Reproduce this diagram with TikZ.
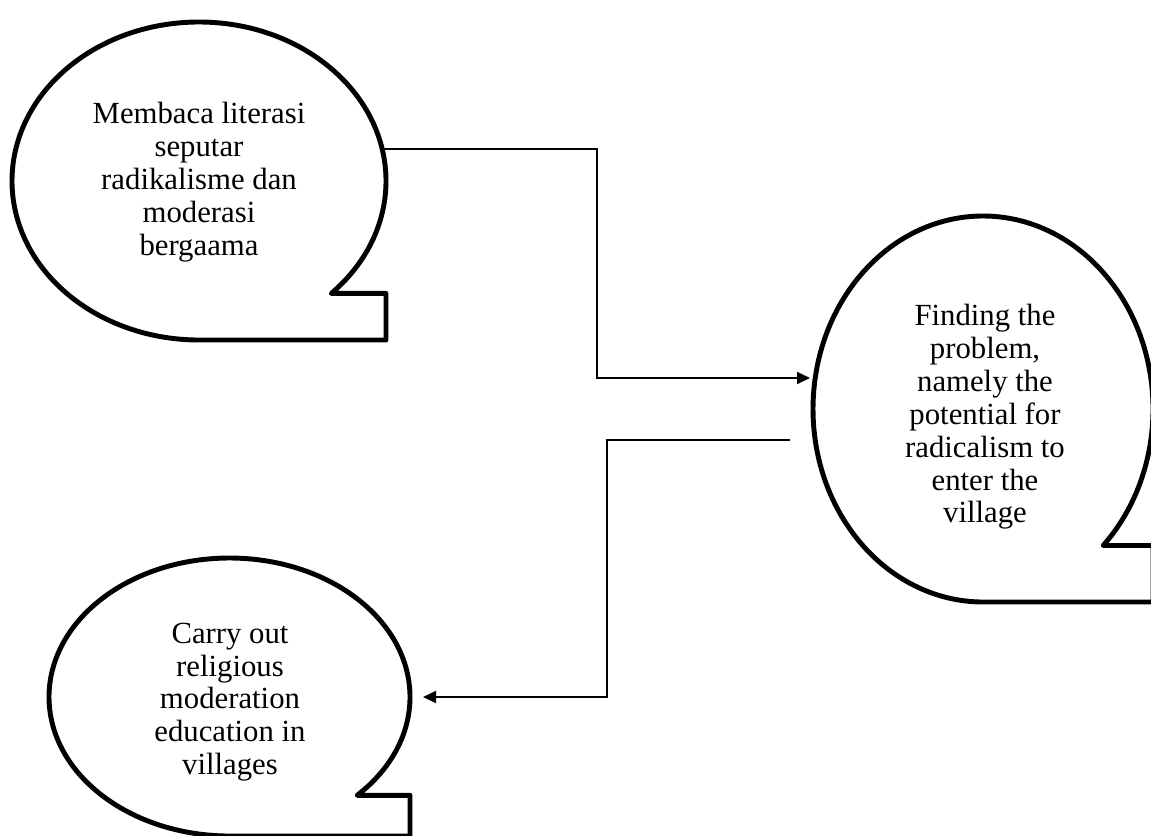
\documentclass[tikz,border=0pt]{standalone}
\usepackage{fontspec}
\setmainfont{Liberation Serif}
\usetikzlibrary{arrows.meta}
\begin{document}
\begin{tikzpicture}[x=0.02cm,y=-0.02cm,bubble/.style={draw=black,line width=2.8pt,line join=round},txt/.style={align=center,inner sep=0pt,font=\fontsize{17.5}{18.7}\selectfont},link/.style={line width=1.1pt,-{Triangle[length=7.4pt,width=6.8pt]}},linkN/.style={line width=1.1pt}]
\useasboundingbox (0,0) rectangle (1151,835);

\draw[bubble] (199,181) ++(45:187 and 159) arc[start angle=45,end angle=-270,x radius=187,y radius=159] -| (386,293.4) -- cycle;
\node[txt] (lit) at (199,182) {Membaca literasi\\seputar\\radikalisme dan\\moderasi\\bergaama};

\draw[bubble] (983,409) ++(45:170 and 193) arc[start angle=45,end angle=-270,x radius=170,y radius=193] -| (1153,545.5) -- cycle;
\node[txt] (prob) at (985,417) {Finding the\\problem,\\namely the\\potential for\\radicalism to\\enter the\\village};

\draw[bubble] (229.5,697) ++(45:180.5 and 139) arc[start angle=45,end angle=-270,x radius=180.5,y radius=139] -| (410,795.3) -- cycle;
\node[txt] (edu) at (230,702) {Carry out\\religious\\moderation\\education in\\villages};

\coordinate (litR) at (383,149);
\coordinate (probL) at (810,378);
\coordinate (probO) at (790,440);
\coordinate (eduR) at (423,697);
\draw[link] (litR) -- ++(214,0) |- (probL);
\draw[link] (probO) -- ++(-183,0) |- (eduR);
\end{tikzpicture}
\end{document}
